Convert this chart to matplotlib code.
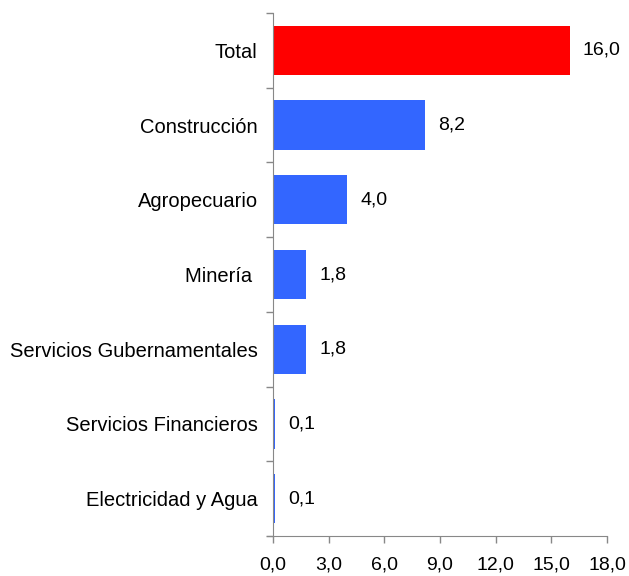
import numpy as np
import matplotlib.pyplot as plt
from matplotlib.ticker import FixedLocator

categorias = ['Total', 'Construcción', 'Agropecuario', 'Minería ',
              'Servicios Gubernamentales', 'Servicios Financieros',
              'Electricidad y Agua']
valores = [16.0, 8.2, 4.0, 1.8, 1.8, 0.1, 0.1]
colores = ['#FF0000', '#3366FF', '#3366FF', '#3366FF', '#3366FF', '#3366FF', '#3366FF']
xticks = [0, 3, 6, 9, 12, 15, 18]

plt.rcParams['font.family'] = ['Liberation Sans', 'DejaVu Sans']

fig = plt.figure(figsize=(6.29, 5.76), dpi=100)
ax = fig.add_axes([273 / 629, 40 / 576, 334 / 629, 523 / 576])

y = np.arange(len(categorias))
ax.barh(y, valores, height=0.66, color=colores)
ax.set_ylim(len(categorias) - 0.5, -0.5)
ax.set_xlim(0, 18)

for yi, v in zip(y, valores):
    ax.text(v + 0.7, yi, f'{v:.1f}'.replace('.', ','), va='center', ha='left', fontsize=14)

ax.set_yticks(y)
ax.set_yticklabels(categorias, fontsize=14.5)
ax.yaxis.set_minor_locator(FixedLocator(np.arange(-0.5, len(categorias), 1.0)))
ax.tick_params(axis='y', which='major', length=0, pad=11)
ax.tick_params(axis='y', which='minor', length=5, color='#888888', width=1)

ax.set_xticks(xticks)
ax.set_xticklabels([f'{t:.1f}'.replace('.', ',') for t in xticks], fontsize=14)
ax.tick_params(axis='x', length=5, color='#888888', width=1, pad=10)

for s in ['top', 'right']:
    ax.spines[s].set_visible(False)
for s in ['left', 'bottom']:
    ax.spines[s].set_color('#888888')
ax.spines['bottom'].set_bounds(-0.3, 18)

fig.savefig('out.png', dpi=100)
